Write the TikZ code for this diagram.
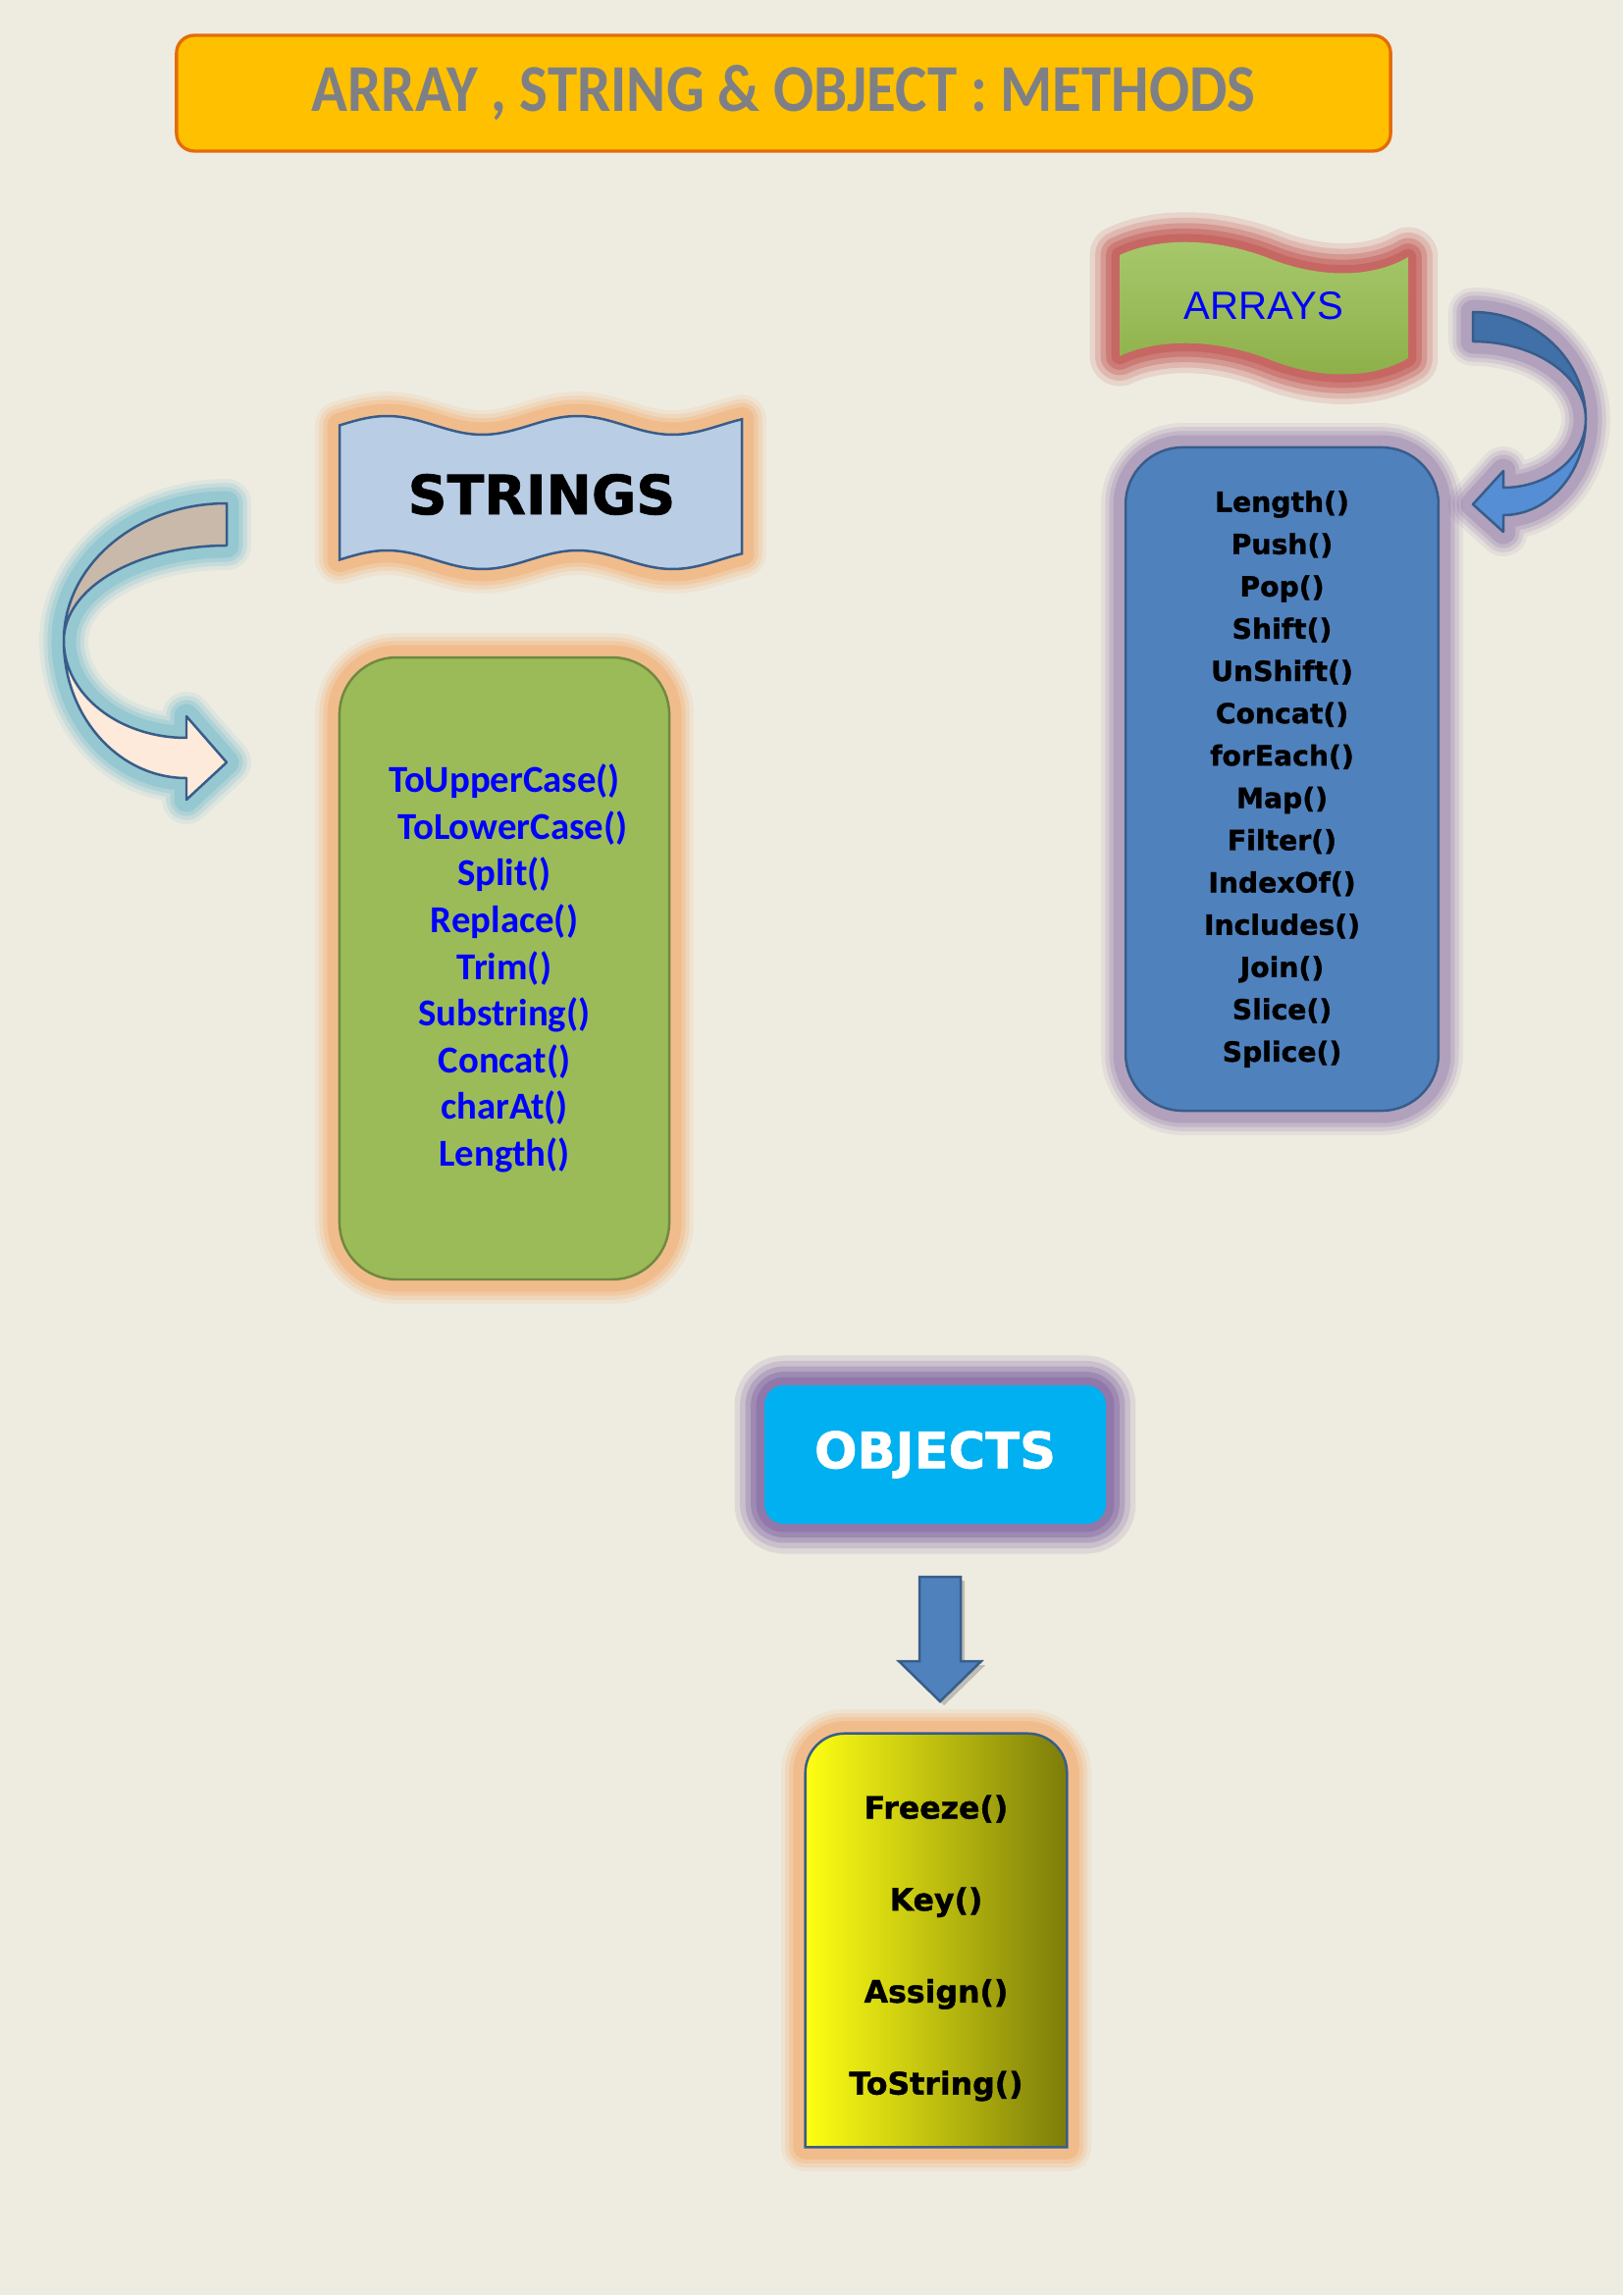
\documentclass[tikz,border=0pt]{standalone}
\usepackage{fontspec}
\usepackage{graphicx}
\setmainfont{Liberation Sans}
\newfontfamily\carlito{Carlito}
\newfontfamily\dejavu{DejaVu Sans}
\newfontfamily\heavy{DejaVu Sans Bold}[FakeBold=1.2]
\usetikzlibrary{positioning,calc,backgrounds}
\definecolor{pagebg}{HTML}{EEECE1}
\definecolor{titlefill}{HTML}{FFC000}
\definecolor{titleline}{HTML}{E46C0A}
\definecolor{titletext}{HTML}{7E8085}
\definecolor{edgeblue}{HTML}{385D8A}
\definecolor{arrfill}{HTML}{4F81BD}
\definecolor{strfill}{HTML}{9BBB59}
\definecolor{strline}{HTML}{71893F}
\definecolor{bannerblue}{HTML}{B9CDE5}
\definecolor{objfill}{HTML}{00B0F0}
\definecolor{glowred}{HTML}{C0504D}
\definecolor{glowviolet}{HTML}{8064A2}
\definecolor{glowsand}{HTML}{F79646}
\definecolor{glowsky}{HTML}{4BACC6}
\definecolor{curlbrown}{HTML}{C9B9AA}
\definecolor{curlpeach}{HTML}{FDEADA}
\definecolor{curldark}{HTML}{4170A8}
\definecolor{curllight}{HTML}{558ED5}
\definecolor{greentop}{HTML}{A8C96C}
\definecolor{greenbot}{HTML}{8DAF48}
\definecolor{olivedark}{HTML}{7C7D0A}
\definecolor{lemon}{HTML}{FFFF14}
\tikzset{glow/.style={preaction={draw=#1,opacity=.1,line width=18pt,line join=round},
 preaction={draw=#1,opacity=.15,line width=15pt,line join=round},
 preaction={draw=#1,opacity=.2,line width=12pt,line join=round},
 preaction={draw=#1,opacity=.25,line width=9pt,line join=round}},
 deepglow/.style={preaction={draw=#1,opacity=.15,line width=22pt,line join=round},
 preaction={draw=#1,opacity=.2,line width=18pt,line join=round},
 preaction={draw=#1,opacity=.3,line width=14pt,line join=round},
 preaction={draw=#1,opacity=.4,line width=10pt,line join=round},
 preaction={draw=#1,opacity=.45,line width=6pt,line join=round}},
 box/.style={align=center,inner sep=0pt,line width=0.9pt},
 listbox/.style={box,rounded corners=21pt},
 curl/.style={draw=edgeblue,line width=0.9pt,line join=round},
 blockarrow/.style={draw=edgeblue,fill=arrfill,line width=0.9pt,
  preaction={fill=black,opacity=.2,transform canvas={shift={(1.5pt,-1.5pt)}}}}}

\begin{document}
\begin{tikzpicture}[x=0.0126965cm,y=-0.0126965cm]
\begin{scope}[on background layer]
\fill[pagebg] (0,0) rectangle (1654,2339);
\end{scope}
\useasboundingbox (0,0) rectangle (1654,2339);

\node[box,draw=titleline,fill=titlefill,line width=1.2pt,rounded corners=6.5pt,
 minimum width=446.9pt,minimum height=42.6pt,text=titletext,
 font=\carlito\bfseries\fontsize{22}{24}\selectfont] (title) at (798.5,95)
 {\scalebox{1}[1.12]{ARRAY , STRING \& OBJECT : METHODS}};

\shade[top color=greentop,bottom color=greenbot,deepglow=glowred]
 (1141,260) .. controls (1175,244) and (1230,240) .. (1290,262)
 .. controls (1345,285) and (1400,283) .. (1435,262) -- (1435,365)
 .. controls (1400,386) and (1345,388) .. (1290,365)
 .. controls (1230,343) and (1175,347) .. (1141,363) -- cycle;
\node[text=blue,font=\fontsize{14.5}{17}\selectfont] (arrhead) at (1288,312) {ARRAYS};

\path[glow=glowviolet] (1501,318) .. controls (1564.5,318) and (1616,366.8) .. (1616,427)
 .. controls (1616,481.1) and (1578.4,525) .. (1532,525) -- (1532,542) -- (1501,514)
 -- (1532,480) -- (1532,497) .. controls (1578.4,497) and (1616,465.7) .. (1616,427)
 .. controls (1616,383.4) and (1564.5,348) .. (1501,348) -- cycle;
\draw[curl,fill=curldark] (1501,318) .. controls (1564.5,318) and (1616,366.8) .. (1616,427)
 .. controls (1616,383.4) and (1564.5,348) .. (1501,348) -- cycle;
\draw[curl,fill=curllight] (1616,427) .. controls (1616,481.1) and (1578.4,525) .. (1532,525)
 -- (1532,542) -- (1501,514) -- (1532,480) -- (1532,497)
 .. controls (1578.4,497) and (1616,465.7) .. (1616,427) -- cycle;

\node[listbox,draw=edgeblue,fill=arrfill,glow=glowviolet,minimum width=115.2pt,
 minimum height=244.2pt,font=\heavy\fontsize{10.2}{15.57}\selectfont]
 (arrlist) at (1306.5,794)
 {Length()\\Push()\\Pop()\\Shift()\\UnShift()\\Concat()\\forEach()\\Map()\\Filter()\\
  IndexOf()\\Includes()\\Join()\\Slice()\\Splice()};

\draw[fill=bannerblue,draw=edgeblue,line width=0.9pt,glow=glowsand]
 plot[domain=346:756,samples=80] (\x,{433.5-9.5*sin((\x-346)*1.85567)})
 -- plot[domain=756:346,samples=80] (\x,{570.5-9.5*sin((\x-346)*1.85567)}) -- cycle;
\node[font=\heavy\fontsize{20}{24}\selectfont] (strhead) at (552,504) {STRINGS};

\path[glow=glowsky] (231,513) .. controls (139.3,513) and (65,575.7) .. (65,653)
 .. controls (65,730.3) and (121,793) .. (190,793) -- (190,815) -- (231,777)
 -- (190,730) -- (190,752) .. controls (121,752) and (65,707.7) .. (65,653)
 .. controls (65,599.4) and (139.3,556) .. (231,556) -- cycle;
\draw[curl,fill=curlbrown] (231,513) .. controls (139.3,513) and (65,575.7) .. (65,653)
 .. controls (65,599.4) and (139.3,556) .. (231,556) -- cycle;
\draw[curl,fill=curlpeach] (65,653) .. controls (65,730.3) and (121,793) .. (190,793)
 -- (190,815) -- (231,777) -- (190,730) -- (190,752)
 .. controls (121,752) and (65,707.7) .. (65,653) -- cycle;

\node[listbox,draw=strline,fill=strfill,glow=glowsand,minimum width=121.4pt,
 minimum height=229pt,text=blue,font=\carlito\bfseries\fontsize{14}{17.2}\selectfont]
 (strlist) at (514,987)
 {ToUpperCase()\\\hspace*{6pt}ToLowerCase()\\Split()\\Replace()\\Trim()\\Substring()\\
  Concat()\\charAt()\\Length()};

\node[box,fill=objfill,rounded corners=7.2pt,deepglow=glowviolet,minimum width=125.7pt,
 minimum height=51pt,text=white,font=\heavy\fontsize{18.5}{22}\selectfont]
 (objects) at (953,1482.5) {OBJECTS};

\coordinate (downtop) at (958,1607);
\draw[blockarrow] ($(downtop)+(-21,0)$) -- ++(42,0) -- ++(0,86) -- ++(21,0)
 -- ++(-42,41) -- ++(-42,-41) -- ++(21,0) -- cycle;

\node[box,minimum width=95.4pt,minimum height=151.4pt] (objframe) at (954,1977.5) {};
\node[align=center,font=\heavy\fontsize{11.4}{33.85}\selectfont]
 (objlist) at ($(objframe.center)+(0,8)$) {Freeze()\\Key()\\Assign()\\ToString()};
\begin{scope}[on background layer]
\draw[left color=lemon,right color=olivedark,draw=edgeblue,line width=0.9pt,glow=glowsand]
 (objframe.south west) [rounded corners=14.5pt]-- (objframe.north west)
 -- (objframe.north east) [sharp corners]-- (objframe.south east) -- cycle;
\end{scope}
\end{tikzpicture}
\end{document}
